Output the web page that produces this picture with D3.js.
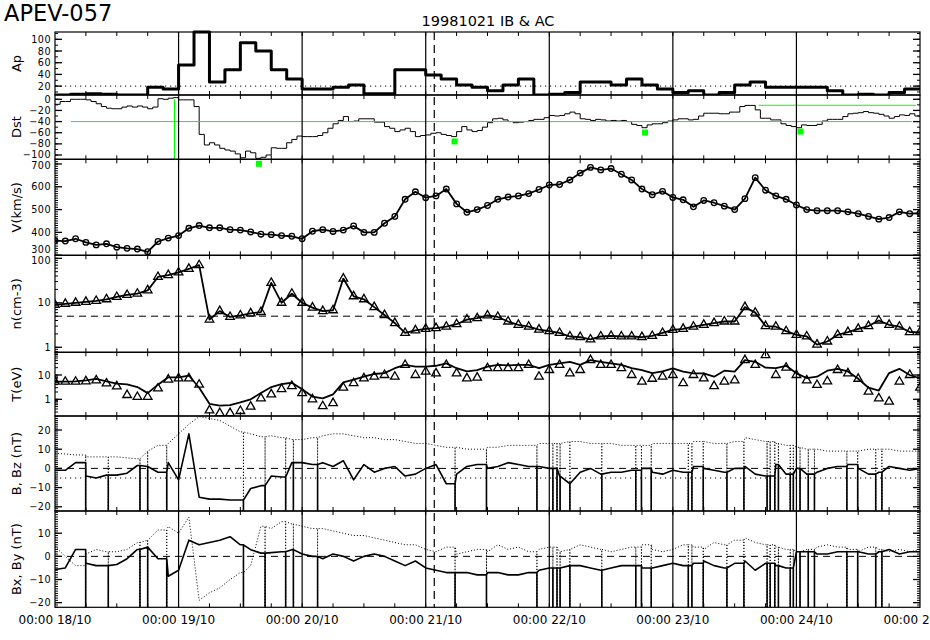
<!DOCTYPE html>
<html><head><meta charset="utf-8">
<script src="https://cdn.jsdelivr.net/npm/d3@7/dist/d3.min.js"></script>
<style>
body{margin:0;background:#fff}
svg{display:block}
text{font-family:"DejaVu Sans",sans-serif;fill:#000}
</style>
</head><body>
<svg id="c" width="930" height="640"></svg>
<script>
// ---------------- DATA ----------------
const title = "APEV-057";
const subtitle = "19981021 IB & AC";
const dayLabels = ["00:00 18/10","00:00 19/10","00:00 20/10","00:00 21/10","00:00 22/10","00:00 23/10","00:00 24/10","00:00 25/10"];
const panelLabels = ["Ap","Dst","V(km/s)","n(cm-3)","T(eV)","B, Bz (nT)","Bx, By (nT)"];
const apTicks = [20,40,60,80,100];
const dstTicks = [0,-20,-40,-60,-80,-100];
const vTicks = [300,400,500,600,700];
const nTicks = [1,10,100];
const tTicks = [1,10];
const bTicks = [-20,-10,0,10,20];
const bxyTicks = [-20,-10,0,10];

// Ap, 3-hourly (56 values)
const apValues = [5,6,7,6,5,5,18,15, 56,132,27,48,94,80,48,32, 15,15,18,22,7,7,48,48,
  39,32,22,18,12,22,32,5, 6,9,27,27,22,32,22,15, 9,12,5,9,22,27,18,18, 18,18,12,5,6,5,9,15];
const apLevel = 20;

// Dst, hourly (168 values)
const dstValues = [
 -9,-4,-4,0,0,0,-1,-4,-8,-13,-16,-17,-17,-14,-12,-14,-12,-14,-17,-14,1,0,2,3,
 -1,-1,-1,-13,-63,-82,-78,-82,-88,-91,-93,-98,-105,-93,-96,-106,-104,-100,-87,-88,-88,-78,-72,-66,
 -67,-67,-67,-65,-60,-52,-44,-38,-31,-40,-39,-35,-35,-35,-41,-41,-49,-52,-58,-55,-52,-58,-67,-65,
 -64,-61,-60,-63,-65,-67,-58,-49,-55,-58,-56,-50,-42,-35,-34,-37,-40,-42,-41,-40,-38,-36,-36,-33,
 -29,-30,-29,-26,-23,-26,-35,-36,-38,-36,-37,-39,-38,-39,-38,-40,-45,-47,-51,-46,-44,-44,-42,-39,
 -37,-35,-35,-37,-36,-30,-25,-25,-25,-26,-26,-23,-23,-13,-11,-11,-19,-34,-34,-37,-37,-44,-47,-49,
 -51,-46,-47,-47,-45,-39,-36,-36,-36,-31,-26,-25,-24,-22,-24,-25,-27,-30,-34,-31,-28,-29,-26,-30];
const dstLevel = -40;
const dstLevel2 = -10.7, dstLevel2Start = 136.7, dstLevel2End = 167.2;
const dstLevelStart = 3.1, dstLevelEnd = 166.4;
const dstMarkHour = 23.2;
const dstMinHours = [39.6, 77.6, 114.6, 144.8];
const dstMinValues = [-115.7, -75.7, -59.6, -57.9];

// Solar wind, 2-hourly (85 values, 0..168 h)
const vValues = [
 364,362,372,356,345,350,335,330,327,315,360,375,
 386,418,430,420,420,412,410,402,392,390,386,383,
 372,405,412,404,410,428,400,400,440,470,545,578,
 552,560,590,525,488,500,518,545,555,560,570,588,
 608,610,630,660,685,674,680,655,630,590,565,580,
 553,543,512,540,530,515,500,548,640,585,560,545,
 520,500,495,495,495,490,482,470,458,465,490,482, 484];
const nValues = [
 9,9.5,10,10.5,11,12,13.5,15,16,19,38,42,
 48,58,70,4.2,6.5,4.8,5.2,5.8,6.2,28,10,16,
 10,7.8,6.5,6.8,35,14,12,8,5.3,3.5,2.1,2.4,
 2.6,2.7,2.9,3.3,4.2,4.5,5.2,4.8,3.8,3.2,2.9,2.5,
 2.3,2.1,1.75,1.7,1.5,1.75,1.8,1.75,1.75,1.7,1.8,2.1,
 2.45,2.6,2.9,3.2,3.5,3.8,3.8,8.0,6.0,3.0,2.9,2.3,
 1.9,1.75,1.15,1.35,1.9,2.2,2.6,3.0,4.0,3.2,2.9,2.2, 2.2];
const nLevel = 5;
const tLine = [
 5.3,5.3,5.5,6.0,7.0,5.5,4.4,4.1,3.2,1.8,4.0,8.0,
 8.0,9.5,3.0,0.65,0.55,0.58,0.75,1.0,1.8,3.2,4.2,4.8,
 2.6,1.3,1.1,1.6,5.0,6.5,8.5,11,12,19,26,22,
 22,24,30,19,14,16,22,26,25,26,26,19,
 26,30,35,26,41,35,30,26,19,16,12,14,
 18.9,13.7,11.7,11.7,8.5,15,13.7,41,35,20,19,24,
 11.7,7.5,8.5,15,18,14,7,3,2.3,12,18,10, 7.3];
const tTri = [
 5.3,5.3,5.3,5.5,6,4.5,3.4,1.5,1.25,1.25,2.8,6.5,
 7.3,7.3,4,0.35,0.27,0.27,0.33,0.5,1.1,1.6,2.6,3.5,
 1.8,1.0,0.52,0.7,3.0,4.6,7.3,8.5,10,8.5,26,10,
 13.7,11.7,26,11.7,7.3,7.8,19,19,19,19,26,8.5,
 16,26,11.7,16,41,26,26,19,10,5.3,7,8.5,
 10,4.6,10,7.3,3.5,5.3,6,41,26,66,10,20,
 10,6,3.9,5.5,16,11.7,7,2.05,1.1,0.8,5.3,10, 3];

// Magnetic field, 2-hourly (85 values)
const bMag = [
 8,7.5,7,6,6,6,6,5.5,5,9,12,13,
 18,23,27,26,25,22,19,18,16.5,17,16,15,
 15,16,17,18,18,17,16,16,15,15,14,13,
 13,12,11,11,10,10,11,11,12,12,12,13,
 13,13,14,14,13,13,13,12,12,12,13,13,
 13,13,14,14,13,13,14,16,15,14,13,12,
 11,10,10,9,9,9,9,10,10,10,9,9, 9];
const bz = [
 -1,-1,3,-4,-5,-3.5,-3.5,-2.5,1.5,1,-2,3,
 -6,18,-15,-16,-16,-16.5,-16.5,-10.5,-9,-4,-4.5,3,
 3,2,3,1,4,-6,2,-2,0,1,-4,-3,
 0,2,-8,-3,1,2,0,1,3,2,1,1,
 0,-4,-8,-2,0,-3,-2,-2,-1,0,-2,-3,
 -1,-2,1,0,-1,-2,0,1,-3,-4,2,-3,
 0,-3,-2,0,1,2,0,-3,-2,1,0,-1, 0];
const bx = [
 -5.7,-5,3,-3,-4,-4,-3.5,-1,3,4,-1,-8.6,
 -6,7,5,6,7,8.5,5,2.9,1.4,1.6,2,2.9,
 1,0,-1,1,0,-2,0,1,0,-2,-4,-2,
 -5,-6,-7,-7,-7,-8,-7,-7,-8,-8,-7,-6,
 -5,-5,-4,-4,-5,-6,-5,-4,-4,-5,-5,-4,
 -3,-4,-3,-2,-4,-5,-3,-2,-6,-3,-4,-5,
 2,2,1,1,2,2,2,1,2,3,1,2, 2];
const by = [
 4.3,0,-4,1,3,2,2,3,6,7,11.4,12.9,
 10,17,-19,-15.7,-13.6,-10,-7,-4,13,12,15,14,
 13,12,12,11,10,9,9,8,7,6,5,5,
 3,2,4,1,2,3,2,5,3,4,2,3,
 4,2,3,5,4,3,2,3,4,5,3,2,
 3,5,4,3,6,5,7,8,6,5,4,3,
 2,3,4,5,4,3,2,4,3,2,3,2, 3];
const bzLevel = -5;
// data gaps (hours since 00:00 18/10)
const gapHours = [5.96,10.35,16.5,18.0,21.7,36.6,40.8,44.8,46.3,51.0,77.7,83.8,93.6,96.7,97.5,98.1,100.0,
  106.2,112.8,113.9,115.8,123.0,123.7,125.9,130.5,133.8,138.3,138.9,139.8,140.5,142.8,143.4,144.7,
  146.3,147.5,153.8,155.9,159.4,160.6];
const eventHour = 73.66;
const FILL = -1e4;

// ---------------- LAYOUT ----------------
const X0 = 55, X1 = 920;
const x = d3.scaleLinear().domain([0,168]).range([X0,X1]);
const svg = d3.select("#c");
const logMinor = (lo,hi)=>{const r=[];for(let e=-2;e<=3;e++)for(let m=1;m<=9;m++){const v=m*Math.pow(10,e);if(v>=lo&&v<=hi)r.push(v);}return r;};

const panels = [
 {top:32, bottom:95, scale:d3.scaleLinear().domain([4.8,112.5]).clamp(true), major:apTicks, minor:d3.range(10,111,10)},
 {top:95, bottom:159.3, scale:d3.scaleLinear().domain([-107.7,7.7]), major:dstTicks, minor:d3.range(-100,1,10)},
 {top:159.3, bottom:255.3, scale:d3.scaleLinear().domain([299.5,720.5]), major:vTicks, minor:d3.range(300,721,10)},
 {top:255.3, bottom:352.3, scale:d3.scaleLog().domain([0.772,116.7]), major:nTicks, minor:logMinor(0.772,116.7)},
 {top:352.3, bottom:416, scale:d3.scaleLog().domain([0.2056,85.9]), major:tTicks, minor:logMinor(0.2056,85.9)},
 {top:416, bottom:511, scale:d3.scaleLinear().domain([-22.2,27.3]), major:bTicks, minor:d3.range(-22,28,1)},
 {top:511, bottom:607.3, scale:d3.scaleLinear().domain([-22,19.6]), major:bxyTicks, minor:d3.range(-22,20,1)}
];
panels.forEach((p,i)=>{p.scale.range([p.bottom,p.top]); p.label=panelLabels[i];});
// label nudges (px) for crowded panel edges: [panel, tick value, dy]
const labelNudge = [[1,-100,-0.8],[2,700,1.8],[2,300,-5.5],[3,100,2.2]];

const defs = svg.append("defs");
panels.forEach((p,i)=>{
  defs.append("clipPath").attr("id","cp"+i).append("rect")
    .attr("x",X0).attr("y",p.top-(i===0?2:0)).attr("width",X1-X0).attr("height",p.bottom-p.top+(i===0?2:0));
});

// titles
svg.append("text").attr("x",4).attr("y",21).attr("font-size",22.5).text(title);
svg.append("text").attr("x",488).attr("y",26).attr("font-size",14.5).attr("text-anchor","middle").text(subtitle);

// panel label + ticks
panels.forEach((p,i)=>{
  const g = svg.append("g");
  const cy=(p.top+p.bottom)/2;
  g.append("text").attr("transform",`translate(21,${cy}) rotate(-90)`).attr("text-anchor","middle")
    .attr("font-size",13).text(p.label);
  p.minor.forEach(v=>{const y=p.scale(v); if(y<p.top-0.1||y>p.bottom+0.1) return;
    g.append("line").attr("x1",X0).attr("x2",X0+3).attr("y1",y).attr("y2",y).attr("stroke","#000");
    g.append("line").attr("x1",X1).attr("x2",X1-3).attr("y1",y).attr("y2",y).attr("stroke","#000");});
  p.major.forEach(v=>{const y=p.scale(v);
    if(y>=p.top-0.5&&y<=p.bottom+0.5){
    g.append("line").attr("x1",X0).attr("x2",X0+7).attr("y1",y).attr("y2",y).attr("stroke","#000").attr("stroke-width",1.3);
    g.append("line").attr("x1",X1).attr("x2",X1-7).attr("y1",y).attr("y2",y).attr("stroke","#000").attr("stroke-width",1.3);}
    const nd = labelNudge.find(a=>a[0]===i&&a[1]===v);
    const ly = y + (nd?nd[2]:0);
    g.append("text").attr("x",51).attr("y",ly+3.6).attr("text-anchor","end").attr("font-size",9.6)
      .attr("letter-spacing",0.5).text(v<0?"\u2212"+Math.abs(v):String(v));
  });
  d3.range(6,168,6).forEach(h=>{
    g.append("line").attr("x1",x(h)).attr("x2",x(h)).attr("y1",p.top).attr("y2",p.top+4).attr("stroke","#000");
    g.append("line").attr("x1",x(h)).attr("x2",x(h)).attr("y1",p.bottom).attr("y2",p.bottom-4).attr("stroke","#000");
  });
});

// reference lines
function hline(pi,v,dash,color,h0=0,h1=168,w=1){
  const p=panels[pi];
  svg.append("line").attr("x1",x(h0)).attr("x2",x(h1)).attr("y1",p.scale(v)).attr("y2",p.scale(v))
   .attr("stroke",color||"#000").attr("stroke-width",w).attr("stroke-dasharray",dash||null);
}
hline(0,apLevel,"1.2,3.8");
hline(3,nLevel,"7,5");
hline(5,0,"7,5");
hline(5,bzLevel,"1.2,3.8");
hline(6,0,"7,5");

// series helpers
function plot(pi, pts, opts){
  const p=panels[pi];
  const ln=d3.line().x(d=>x(d.t)).y(d=>p.scale(d.v)).curve(opts.curve||d3.curveLinear);
  svg.append("path").attr("clip-path",`url(#cp${pi})`).attr("d",ln(pts)).attr("fill","none")
    .attr("stroke","#000").attr("stroke-width",opts.w||1).attr("stroke-dasharray",opts.dash||null)
    .attr("stroke-linejoin","round");
}
const series=(vals,step)=>vals.map((v,i)=>({t:i*step,v}));
// a gap: the trace drops to the fill value at the gap time and comes back
const withGaps=(vals,step)=>{
  const pts=series(vals,step);
  gapHours.forEach(t=>{const v0=vals[Math.floor(t/step)];
    pts.push({t,v:v0,o:0},{t,v:FILL,o:1},{t,v:v0,o:2});});
  return pts.sort((a,b)=>a.t-b.t||((a.o??-1)-(b.o??-1)));
};

// Ap
const apPts = series(apValues,3); apPts.push({t:168,v:apValues[apValues.length-1]});
plot(0, apPts, {curve:d3.curveStepAfter, w:3});
// Dst
const dstPts = series(dstValues,1); dstPts.push({t:168,v:dstValues[dstValues.length-1]});
plot(1, dstPts, {curve:d3.curveStepAfter, w:1});
hline(1,dstLevel,null,"#00ff00",dstLevelStart,dstLevelEnd);
hline(1,dstLevel2,null,"#00ff00",dstLevel2Start,dstLevel2End);
svg.append("line").attr("x1",x(dstMarkHour)).attr("x2",x(dstMarkHour)).attr("y1",panels[1].scale(0)).attr("y2",panels[1].bottom)
  .attr("stroke","#00ff00").attr("stroke-width",1.2);
svg.selectAll(".sq").data(dstMinHours).enter().append("rect")
  .attr("x",d=>x(d)-3).attr("y",(d,i)=>panels[1].scale(dstMinValues[i])-3).attr("width",6).attr("height",6).attr("fill","#00ff00");

// V
const vPts = series(vValues,2);
plot(2, vPts, {w:1.8});
svg.append("g").attr("clip-path","url(#cp2)").selectAll("circle").data(vPts).enter().append("circle")
  .attr("cx",d=>x(d.t)).attr("cy",d=>panels[2].scale(d.v)).attr("r",2.8).attr("fill","none").attr("stroke","#000").attr("stroke-width",1.3);
// n
const nPts = series(nValues,2);
plot(3, nPts, {w:1.8});
const tri = d3.symbol().type(d3.symbolTriangle).size(32);
svg.append("g").attr("clip-path","url(#cp3)").selectAll("path").data(nPts).enter().append("path")
  .attr("d",tri).attr("transform",d=>`translate(${x(d.t)},${panels[3].scale(d.v)})`).attr("fill","none").attr("stroke","#000").attr("stroke-width",1.3);
// T
plot(4, series(tLine,2), {w:1.8});
svg.append("g").attr("clip-path","url(#cp4)").selectAll("path").data(series(tTri,2)).enter().append("path")
  .attr("d",tri).attr("transform",d=>`translate(${x(d.t)},${panels[4].scale(d.v)})`).attr("fill","none").attr("stroke","#000").attr("stroke-width",1.3);
// B
plot(5, withGaps(bMag,2), {w:1, dash:"1,2"});
plot(5, withGaps(bz,2), {w:1.6});
plot(6, withGaps(by,2), {w:1, dash:"1,2"});
plot(6, withGaps(bx,2), {w:1.6});

// frames, day grid, event line
panels.forEach(p=>{
  svg.append("rect").attr("x",X0).attr("y",p.top).attr("width",X1-X0).attr("height",p.bottom-p.top)
    .attr("fill","none").attr("stroke","#000").attr("stroke-width",1.2);
});
d3.range(1,7).forEach(d=>{
  svg.append("line").attr("x1",x(24*d)).attr("x2",x(24*d)).attr("y1",32).attr("y2",607.3).attr("stroke","#000").attr("stroke-width",1.2);
});
svg.append("line").attr("x1",x(eventHour)).attr("x2",x(eventHour)).attr("y1",32).attr("y2",607.3)
  .attr("stroke","#000").attr("stroke-width",1.2).attr("stroke-dasharray","8,5");

// bottom labels
dayLabels.forEach((s,i)=>{
  svg.append("text").attr("x",x(24*i)).attr("y",624).attr("text-anchor","middle").attr("font-size",12).text(s);
});
</script>
</body></html>
